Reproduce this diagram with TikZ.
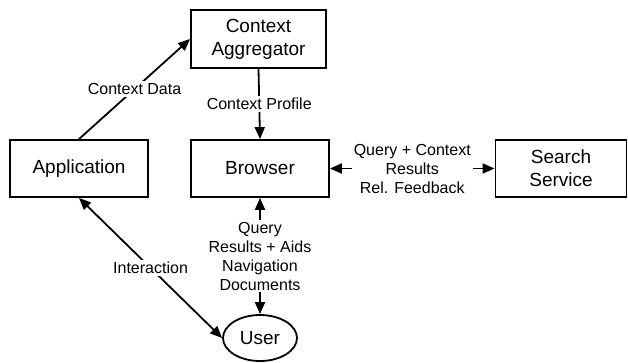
\documentclass[tikz,border=0pt]{standalone}
\usepackage{fontspec}
\setmainfont{Liberation Sans}
\usetikzlibrary{arrows.meta,shapes.geometric}
\begin{document}
\begin{tikzpicture}[x=1pt,y=-1pt,
  box/.style={draw,line width=1.8pt,minimum height=57pt,align=center,
    font=\fontsize{19}{23}\selectfont,inner sep=0pt},
  lbl/.style={fill=white,align=center,font=\fontsize{16}{19}\selectfont,inner sep=2pt},
  conn/.style={line width=1.8pt,-{Triangle[length=12pt,width=10pt]}},
  bconn/.style={line width=1.8pt,{Triangle[length=12pt,width=10pt]}-{Triangle[length=12pt,width=10pt]}}]
\useasboundingbox (0,0) rectangle (628,362);
\node[box,minimum width=135pt,minimum height=58pt] (agg) at (258.5,39) {Context\\Aggregator};
\node[box,minimum width=138pt] (app) at (79,168.5) {Application};
\node[box,minimum width=138pt] (brw) at (260,168.5) {Browser};
\node[box,minimum width=131pt] (srch) at (561,168.5) {Search\\Service};
\node[draw,ellipse,line width=1.8pt,minimum width=74pt,minimum height=46pt,inner sep=0pt,
  font=\fontsize{19}{23}\selectfont] (user) at (260,338) {User};
\draw[conn] (app.north) -- node[lbl] {Context Data} (agg.west);
\draw[conn] (agg.south) -- node[lbl] {Context Profile} (brw.north);
\draw[bconn] (brw.east) -- node[lbl] {Query + Context\\Results\\Rel. Feedback} (srch.west);
\draw[bconn] (brw.south) -- node[lbl] {Query\\Results + Aids\\Navigation\\Documents} (user.north);
\draw[bconn] (app.south) -- node[lbl] {Interaction} (user.west);
\end{tikzpicture}
\end{document}
